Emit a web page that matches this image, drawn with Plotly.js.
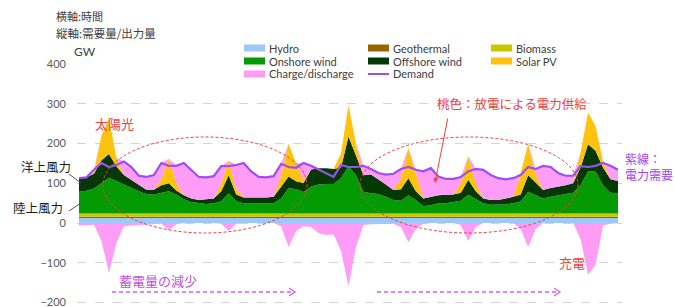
<!DOCTYPE html>
<html><head><meta charset="utf-8">
<script src="https://cdn.plot.ly/plotly-3.0.1.min.js"></script>
<style>html,body{margin:0;padding:0;background:#fff}#c{width:675px;height:307px}</style>
</head><body><div id="c"></div>
<script>
// Time axis: hours, 3-hour steps over 9 days
const hours = Array.from({length: 73}, (_, i) => i * 3);

// GW values (stacked components)
const hydro = [13,13,13,13,13,13,13,13,13,13,13,13,13,13,13,13,13,13,13,13,13,13,13,13,13,13,13,13,13,13,13,13,13,13,13,13,13,13,13,13,13,13,13,13,13,13,13,13,13,13,13,13,13,13,13,13,13,13,13,13,13,13,13,13,13,13,13,13,13,13,13,13,13];
const geothermal = [3,3,3,3,3,3,3,3,3,3,3,3,3,3,3,3,3,3,3,3,3,3,3,3,3,3,3,3,3,3,3,3,3,3,3,3,3,3,3,3,3,3,3,3,3,3,3,3,3,3,3,3,3,3,3,3,3,3,3,3,3,3,3,3,3,3,3,3,3,3,3,3,3];
const biomass = [8,8,8,8,8,8,8,8,8,8,8,8,8,8,8,8,8,8,8,8,8,8,8,8,8,8,8,8,8,8,8,8,8,8,8,8,8,8,8,8,8,8,8,8,8,8,8,8,8,8,8,8,8,8,8,8,8,8,8,8,8,8,8,8,8,8,8,8,8,8,8,8,8];
const onshore = [55,57,63,76,90,82,73,64,56,49,47,52,56,48,36,29,26,24,26,31,51,31,26,26,26,26,26,38,64,61,54,68,73,74,74,89,119,96,55,51,49,42,34,32,46,34,18,21,26,26,29,32,47,36,26,22,22,23,26,30,55,46,38,42,46,49,52,72,106,106,71,52,51];
const offshore = [34,34,37,58,60,37,24,21,15,11,13,19,20,10,10,9,8,12,12,25,45,17,14,14,14,14,16,28,29,20,23,43,41,40,38,27,75,50,41,47,37,31,25,29,43,22,20,21,20,21,19,20,38,20,12,12,12,15,16,18,41,32,21,22,21,22,24,44,68,52,45,34,31];
const solar = [0,0,4,62,90,22,0,0,0,0,0,15,62,18,0,0,0,0,0,20,37,13,0,0,0,0,0,31,83,45,7,0,0,0,0,35,79,30,0,0,0,0,0,28,76,45,0,0,0,0,0,24,59,20,0,0,0,0,0,53,80,20,0,0,0,0,0,38,80,62,15,0,0];
const discharge = [0,0,6,0,0,0,34,32,24,32,37,41,0,44,81,72,58,55,56,43,0,61,87,66,52,51,52,28,0,0,43,9,0,0,0,0,0,0,24,14,16,25,41,23,0,9,68,72,47,40,39,16,0,36,72,63,55,48,47,0,0,14,61,53,35,24,19,0,0,0,0,34,28];
const charge = [-6,-5,-4,-45,-125,-50,-8,-6,-5,-3,-3,-2,-18,-3,0,0,0,0,0,-2,-20,-2,0,0,0,0,0,-8,-60,-20,-8,-10,-25,-30,-28,-70,-158,-60,-5,-3,-3,-2,-2,-10,-48,-15,-2,0,0,0,0,-5,-45,-10,0,0,0,0,0,-15,-60,-15,0,0,0,0,0,-40,-130,-105,-6,-2,0];
const demand = [113,115,134,151,141,146,155,141,119,116,121,151,144,144,151,134,116,115,118,143,143,146,151,130,116,115,118,149,141,139,151,144,134,125,116,146,141,141,144,136,126,122,124,136,141,134,130,138,117,111,111,116,130,136,134,121,113,110,113,121,141,136,144,141,126,119,119,143,141,144,151,144,134];

const seriesNames = ['Hydro','Geothermal','Biomass','Onshore wind','Offshore wind','Solar PV','Charge/discharge','Demand'];
const colors = {
  'Hydro':'#9cc8fa','Geothermal':'#9a6400','Biomass':'#c9c800','Onshore wind':'#049a04',
  'Offshore wind':'#063806','Solar PV':'#ffc20e','Charge/discharge':'#ff9cf6','Demand':'#9b4ff2'
};
const stackData = [hydro, geothermal, biomass, onshore, offshore, solar, discharge];

const traces = stackData.map((vals, i) => ({
  type:'scatter', mode:'lines', x: hours, y: vals, name: seriesNames[i],
  stackgroup:'pos', line:{width:0, color: colors[seriesNames[i]]},
  fillcolor: colors[seriesNames[i]], showlegend:false, hoverinfo:'skip'
}));
traces.push({type:'scatter', mode:'lines', x: hours, y: charge, name:'Charge/discharge',
  fill:'tozeroy', fillcolor: colors['Charge/discharge'], line:{width:0, color: colors['Charge/discharge']},
  showlegend:false, hoverinfo:'skip'});
traces.push({type:'scatter', mode:'lines', x: hours, y: demand, name:'Demand',
  line:{width:2.2, color: colors['Demand']}, showlegend:false, hoverinfo:'skip'});

// pixel -> paper helpers (plot area: x 77..622, y 64..305)
const L = 77, R = 622, T = 64, B = 305;
const px = v => (v - L) / (R - L);
const py = v => (B - v) / (B - T);

const jp = '"Noto Sans CJK JP", "Noto Sans", sans-serif';
const lat = 'Lato, "Noto Sans", sans-serif';

const shapes = [];
const annotations = [];

// manual legend
const legendItems = [
  ['Hydro', 244, 48], ['Geothermal', 368, 48], ['Biomass', 491, 48],
  ['Onshore wind', 244, 61], ['Offshore wind', 368, 61], ['Solar PV', 491, 61],
  ['Charge/discharge', 244, 74], ['Demand', 368, 74]
];
legendItems.forEach(([nm, x, y]) => {
  if (nm === 'Demand') {
    shapes.push({type:'line', xref:'paper', yref:'paper', x0: px(x), x1: px(x+21), y0: py(y), y1: py(y),
      line:{color: colors[nm], width: 2}});
  } else {
    shapes.push({type:'rect', xref:'paper', yref:'paper', x0: px(x), x1: px(x+21), y0: py(y+3.5), y1: py(y-3.5),
      fillcolor: colors[nm], line:{width:0}});
  }
  annotations.push({xref:'paper', yref:'paper', x: px(x+23), y: py(y), text: nm, showarrow:false,
    xanchor:'left', yanchor:'middle', font:{family: lat, size: 11, color:'#404040'}});
});

function txt(t, x, y, color, size, fam) {
  annotations.push({xref:'paper', yref:'paper', x: px(x), y: py(y), text: t, showarrow:false,
    xanchor:'left', yanchor:'middle', font:{family: fam || jp, size: size, color: color}});
}
txt('横軸:時間', 54, 16, '#404040', 11);
txt('縦軸:需要量/出力量', 54, 33, '#404040', 11.5);
txt('GW', 72, 52, '#404040', 12, lat);
txt('太陽光', 93, 123, '#f0403c', 13);
txt('洋上風力', 19, 166, '#1a1a1a', 12.5);
txt('陸上風力', 11, 207, '#1a1a1a', 12.5);
txt('蓄電量の減少', 117, 280, '#c250de', 13);
txt('桃色：放電による電力供給', 435, 103, '#f0403c', 12.5);
txt('紫線：', 623, 158, '#a045ee', 12);
txt('電力需要', 623, 174, '#a045ee', 12);
txt('充電', 557, 262, '#f0403c', 13);

// connectors for wind labels
shapes.push({type:'line', xref:'paper', yref:'paper', x0: px(69), y0: py(174), x1: px(81), y1: py(183), line:{color:'#555', width:1}});
shapes.push({type:'line', xref:'paper', yref:'paper', x0: px(69), y0: py(211), x1: px(81), y1: py(203), line:{color:'#555', width:1}});

// dashed ellipses
[[103, 307], [360, 578]].forEach(([a, b]) => {
  shapes.push({type:'circle', xref:'paper', yref:'paper', x0: px(a), x1: px(b), y0: py(233), y1: py(137),
    line:{color:'#e8403c', width:1, dash:'3px,2px'}, fillcolor:'rgba(0,0,0,0)'});
});

// dashed arrows
[[112, 295], [377, 560]].forEach(([a, b]) => {
  shapes.push({type:'line', xref:'paper', yref:'paper', x0: px(a), x1: px(b), y0: py(292), y1: py(292),
    line:{color:'#d060ee', width:1.3, dash:'4px,3px'}});
  shapes.push({type:'path', xref:'paper', yref:'paper',
    path:`M ${px(b-6)} ${py(288)} L ${px(b)} ${py(292)} L ${px(b-6)} ${py(296)}`,
    line:{color:'#d060ee', width:1.3}});
});

// red arrow
annotations.push({xref:'paper', yref:'paper', x: px(435), y: py(183), ax: 13, ay: -66,
  text:'', showarrow:true, arrowhead:2, arrowsize:1, arrowwidth:1, arrowcolor:'#f0403c'});

const layout = {
  width: 675, height: 307,
  margin: {l: L, r: 675 - R, t: T, b: 307 - B, pad: 0},
  paper_bgcolor:'#ffffff', plot_bgcolor:'#ffffff',
  showlegend:false,
  xaxis: {range:[-0.8, 217.6], showticklabels:false, showgrid:false, zeroline:false, showline:false, ticks:''},
  yaxis: {range:[-206, 400], tickvals:[-200,-100,0,100,200,300,400], ticks:'', showline:false, zeroline:false,
    gridcolor:'#d4d4d4', griddash:'dash', gridwidth:1, ticklabelstandoff: 10, ticklabeloverflow:'allow',
    tickfont:{family: lat, size: 11, color:'#595959'}},
  shapes: shapes,
  annotations: annotations
};

Plotly.newPlot('c', traces, layout, {staticPlot:true, displayModeBar:false});
</script>
</body></html>
